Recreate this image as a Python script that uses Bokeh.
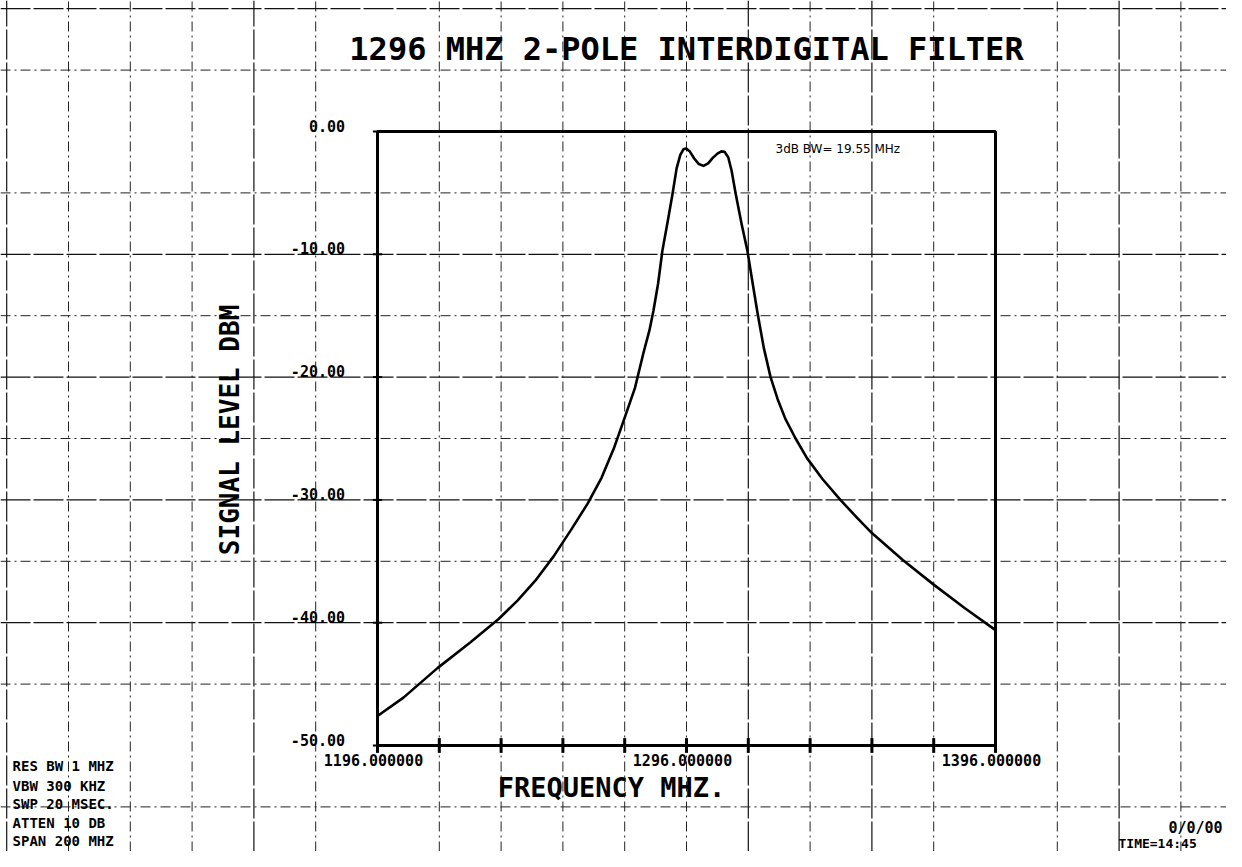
from bokeh.plotting import figure
from bokeh.embed import file_html
from bokeh.resources import INLINE
from bokeh.core.properties import value
from bokeh.models import Range1d
import math

# ---- data -------------------------------------------------------------
freq_mhz = [1196.0, 1204.4, 1215.4, 1226.1, 1235.2, 1241.3, 1247.0, 1253.0,
            1259.0, 1264.0, 1268.5, 1272.5, 1276.0, 1279.3, 1282.1, 1284.0,
            1285.3, 1286.8, 1288.2, 1290.0, 1291.5, 1292.8, 1294.0, 1295.0,
            1295.9, 1297.0, 1298.5, 1300.0, 1301.5, 1303.0, 1304.5, 1306.0,
            1307.3, 1308.3, 1309.5, 1310.6, 1311.9, 1313.8, 1315.7, 1317.5,
            1319.0, 1321.0, 1323.2, 1325.5, 1328.0, 1331.3, 1335.0, 1340.0,
            1345.8, 1351.0, 1356.0, 1366.0, 1376.0, 1386.0, 1396.0]
level_dbm = [-47.6, -46.1, -43.7, -41.6, -39.7, -38.2, -36.6, -34.6,
             -32.3, -30.3, -28.2, -25.8, -23.3, -20.9, -18.0, -16.2,
             -14.6, -12.4, -9.7, -7.2, -5.05, -3.0, -1.9, -1.45,
             -1.38, -1.6, -2.2, -2.65, -2.8, -2.6, -2.15, -1.8,
             -1.62, -1.65, -2.1, -3.2, -5.05, -7.5, -9.7, -12.5,
             -14.8, -17.6, -20.0, -21.8, -23.4, -25.0, -26.6, -28.3,
             -30.0, -31.4, -32.7, -34.9, -36.9, -38.8, -40.6]

x_tick_values = [1196, 1296, 1396]
x_tick_labels = ["1196.000000", "1296.000000", "1396.000000"]
x_minor_ticks = [1196, 1216, 1236, 1256, 1276, 1296, 1316, 1336, 1356, 1376, 1396]
y_tick_values = [0, -10, -20, -30, -40, -50]
y_tick_labels = ["0.00", "-10.00", "-20.00", "-30.00", "-40.00", "-50.00"]

title_text = "1296 MHZ 2-POLE INTERDIGITAL FILTER"
x_axis_label = "FREQUENCY MHZ."
y_axis_label = "SIGNAL LEVEL DBM"
bw_note = "3dB BW= 19.55 MHz"
settings_lines = ["RES BW 1 MHZ", "VBW 300 KHZ", "SWP 20 MSEC.", "ATTEN 10 DB", "SPAN 200 MHZ"]
date_text = "0/0/00"
time_text = "TIME=14:45"

# graph paper (background) line positions, in data units
paper_v_solid = [1076, 1156, 1316, 1356, 1436]
paper_v_dash = [1096, 1116, 1136, 1176, 1216, 1236, 1256, 1276, 1296, 1336, 1376, 1416, 1456]
paper_h_solid = [10, -10, -20, -30, -40]
paper_h_dash = [5, -5, -15, -25, -35, -45, -55]

# ---- figure ------------------------------------------------------------
W, H = 1226, 851
px_per_mhz = 618 / 200.0
px_per_db = 614 / 50.0
x0 = 1196 - 377 / px_per_mhz
y1 = 131 / px_per_db
xlo, xhi = x0, x0 + W / px_per_mhz
ylo, yhi = y1 - H / px_per_db, y1
p = figure(width=W, height=H, output_backend="svg", toolbar_location=None,
           x_range=Range1d(xlo, xhi), y_range=Range1d(ylo, yhi),
           min_border=0, background_fill_color="white",
           border_fill_color="white")
p.axis.visible = False
p.grid.visible = False
p.outline_line_color = None

# graph paper
p.segment(x0=paper_v_solid, x1=paper_v_solid, y0=[ylo] * len(paper_v_solid),
          y1=[yhi] * len(paper_v_solid), line_color="#111111", line_width=1.2,
          line_dash="30 3")
p.segment(x0=paper_v_dash, x1=paper_v_dash, y0=[ylo] * len(paper_v_dash),
          y1=[yhi] * len(paper_v_dash), line_color="#222222", line_width=1,
          line_dash="10 4 2 4")
p.segment(x0=[xlo] * len(paper_h_solid), x1=[xhi] * len(paper_h_solid),
          y0=paper_h_solid, y1=paper_h_solid, line_color="#111111",
          line_width=1.2, line_dash="30 3")
p.segment(x0=[xlo] * len(paper_h_dash), x1=[xhi] * len(paper_h_dash),
          y0=paper_h_dash, y1=paper_h_dash, line_color="#222222",
          line_width=1, line_dash="10 4 2 4")

# plot frame
fx0, fx1 = x_tick_values[0], x_tick_values[-1]
fy0, fy1 = y_tick_values[-1], y_tick_values[0]
p.line(x=[fx0, fx1, fx1, fx0, fx0], y=[fy0, fy0, fy1, fy1, fy0],
       line_color="black", line_width=3)

# ticks
p.segment(x0=x_minor_ticks, x1=x_minor_ticks, y0=[fy0 - 0.6] * len(x_minor_ticks),
          y1=[fy0 + 0.6] * len(x_minor_ticks), line_color="black", line_width=3)
p.segment(x0=[fx0 - 1.5] * len(y_tick_values), x1=[fx0 + 1.5] * len(y_tick_values),
          y0=y_tick_values, y1=y_tick_values, line_color="black", line_width=2)

# curve
p.line(freq_mhz, level_dbm, line_color="black", line_width=2.6,
       line_join="round")

mono = value("DejaVu Sans Mono")

# title
p.text(x=[1296], y=[6.7], text=[title_text], text_font=mono, text_font_size="32px",
       text_font_style="bold", text_align="center", text_baseline="middle",
       text_color="black")

# y tick labels
p.text(x=[fx0 - 10.5] * len(y_tick_values), y=y_tick_values, text=y_tick_labels,
       text_font=mono, text_font_size="15px", text_font_style="bold",
       text_align="right", text_baseline="bottom", text_color="black")

# x tick labels
p.text(x=x_tick_values, y=[fy0] * 3, text=x_tick_labels, text_font=mono,
       text_font_size="15px", text_font_style="bold", text_align="center",
       text_baseline="top", y_offset=8, x_offset=-4, text_color="black")

# axis labels
p.text(x=[1271.7], y=[-53.4], text=[x_axis_label], text_font=mono,
       text_font_size="27px", text_font_style="bold", text_align="center",
       text_baseline="middle", text_color="black")
p.text(x=[1148.4], y=[-24.3], text=[y_axis_label], text_font=mono,
       text_font_size="26px", text_font_style="bold", text_align="center",
       text_baseline="middle", angle=math.pi / 2, text_color="black")

# 3 dB bandwidth note
p.text(x=[1324.8], y=[-1.4], text=[bw_note], text_font=value("DejaVu Sans"),
       text_font_size="12px", text_align="left", text_baseline="middle",
       text_color="black")

# instrument settings block
settings_y = [-51.7, -53.26, -54.8, -56.35, -57.8]
p.text(x=[1077.9] * len(settings_lines), y=settings_y, text=settings_lines,
       text_font=mono, text_font_size="14px", text_font_style="bold",
       text_align="left", text_baseline="middle", text_color="black")

# date / time
p.text(x=[1469.5], y=[-56.7], text=[date_text], text_font=mono,
       text_font_size="15px", text_font_style="bold", text_align="right",
       text_baseline="middle", text_color="black")
p.text(x=[1435.8], y=[-58.0], text=[time_text], text_font=mono,
       text_font_size="13px", text_font_style="bold", text_align="left",
       text_baseline="middle", text_color="black")

open("out.html", "w").write(file_html(p, INLINE))
